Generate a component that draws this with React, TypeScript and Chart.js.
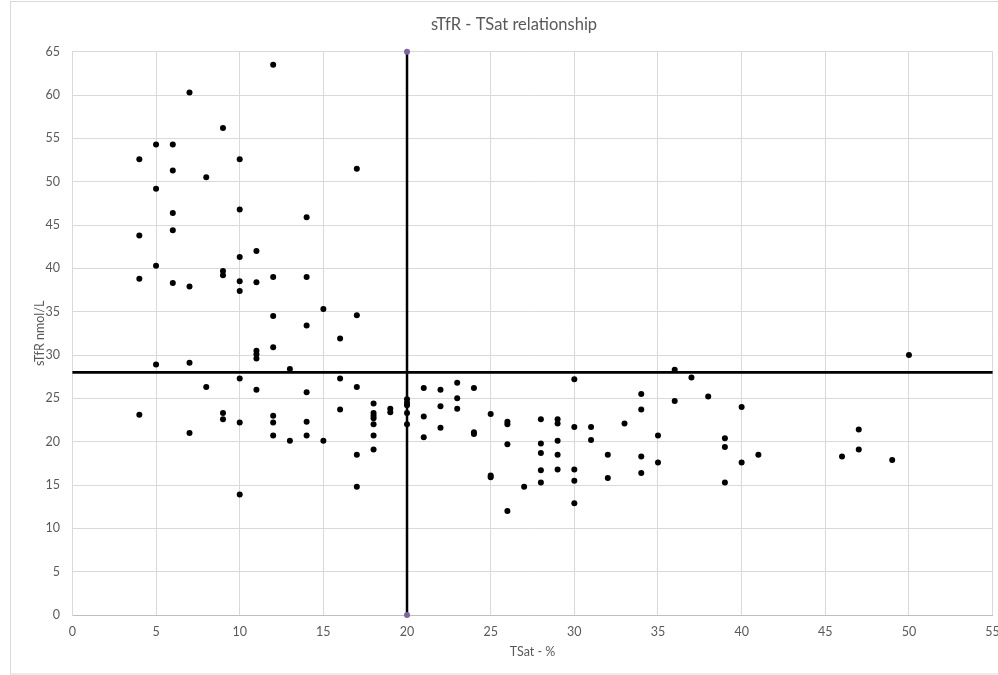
import React, { useEffect, useRef } from "react";
import { Chart, registerables } from "chart.js";

Chart.register(...registerables);

const chartTitle = "sTfR - TSat relationship";
const xAxisTitle = "TSat - %";
const yAxisTitle = "sTfR nmol/L";

// TSat (%) values
const tsat = [
  12, 7, 9, 5, 6, 4, 10, 6, 17, 8, 5, 6, 10, 14, 4, 6, 11, 10, 5, 9, 9, 4, 6, 7, 10, 10, 11, 12, 14, 15, 12, 17, 14, 16,
  11, 11, 11, 12, 5, 7, 13, 10, 16, 8, 11, 14, 17,
  18, 18, 18, 18, 18, 18, 18, 19, 19, 20, 20, 20, 20, 20,
  4, 9, 9, 10, 12, 12, 14, 16, 7, 12, 14, 13, 15, 17, 17, 10,
  21, 21, 21, 22, 22, 22, 23, 23, 23, 24, 24, 24, 25, 25, 25, 26, 26, 26, 26, 27,
  28, 28, 28, 28, 28, 29, 29, 29, 29, 29, 30, 30, 30, 30, 30, 31, 31, 32, 32, 33,
  34, 34, 34, 34, 35, 35, 36, 36, 37,
  38, 40, 39, 39, 39, 40, 41, 46, 47, 47, 49, 50,
];

// sTfR (nmol/L) values
const stfr = [
  63.5, 60.3, 56.2, 54.3, 54.3, 52.6, 52.6, 51.3, 51.5, 50.5, 49.2, 46.4, 46.8, 45.9, 43.8, 44.4, 42.0, 41.3, 40.3, 39.7, 39.2, 38.8, 38.3, 37.9, 38.5, 37.4, 38.4, 39.0, 39.0, 35.3, 34.5, 34.6, 33.4, 31.9,
  30.5, 30.1, 29.6, 30.9, 28.9, 29.1, 28.4, 27.3, 27.3, 26.3, 26.0, 25.7, 26.3,
  24.4, 23.3, 23.0, 22.7, 22.0, 20.7, 19.1, 23.8, 23.4, 24.9, 24.5, 24.2, 23.3, 22.0,
  23.1, 23.3, 22.6, 22.2, 23.0, 22.2, 22.3, 23.7, 21.0, 20.7, 20.7, 20.1, 20.1, 18.5, 14.8, 13.9,
  26.2, 22.9, 20.5, 26.0, 24.1, 21.6, 26.8, 25.0, 23.8, 26.2, 21.1, 20.9, 23.2, 16.1, 15.9, 22.3, 22.0, 19.7, 12.0, 14.8,
  22.6, 19.8, 18.7, 16.7, 15.3, 22.6, 22.1, 20.1, 18.5, 16.8, 27.2, 21.7, 16.8, 15.5, 12.9, 21.7, 20.2, 18.5, 15.8, 22.1,
  25.5, 23.7, 18.3, 16.4, 20.7, 17.6, 28.3, 24.7, 27.4,
  25.2, 24.0, 20.4, 19.4, 15.3, 17.6, 18.5, 18.3, 21.4, 19.1, 17.9, 30.0,
];

// reference lines
const tsatCutoff = 20;
const stfrCutoff = 28;
const xMin = 0;
const xMax = 55;
const yMin = 0;
const yMax = 65;
const tickStep = 5;

const FONT = "Lato, 'Open Sans', sans-serif";
const TEXT = "#595959";
const GRID = "#d9d9d9";

const framePlugin = {
  id: "frame",
  beforeDraw(chart: any) {
    const { ctx } = chart;
    ctx.save();
    ctx.fillStyle = "#ffffff";
    ctx.fillRect(0, 0, chart.width, chart.height);
    ctx.strokeStyle = GRID;
    ctx.lineWidth = 1;
    ctx.strokeRect(10.5, 1.5, chart.width + 10, 672.5);
    ctx.restore();
  },
  afterDraw(chart: any) {
    const { ctx } = chart;
    ctx.save();
    ctx.fillStyle = TEXT;
    ctx.font = `16.5px ${FONT}`;
    ctx.textAlign = "center";
    ctx.textBaseline = "middle";
    ctx.fillText(chartTitle, 514, 25);
    ctx.restore();
  },
};

export default function App() {
  const ref = useRef<HTMLCanvasElement>(null);

  useEffect(() => {
    if (!ref.current) return;
    const points = tsat.map((x, i) => ({ x, y: stfr[i] }));
    const chart = new Chart(ref.current, {
      type: "scatter",
      data: {
        datasets: [
          {
            label: "sTfR vs TSat",
            data: points,
            backgroundColor: "#000000",
            borderColor: "#000000",
            pointRadius: 3,
            borderWidth: 0,
          },
          {
            label: "TSat 20%",
            data: [
              { x: tsatCutoff, y: yMin },
              { x: tsatCutoff, y: yMax },
            ],
            showLine: true,
            borderColor: "#000000",
            borderWidth: 2.5,
            pointRadius: 3,
            pointBackgroundColor: "#8064A2",
            pointBorderWidth: 0,
            clip: false,
          } as any,
          {
            label: "sTfR 28",
            data: [
              { x: xMin, y: stfrCutoff },
              { x: xMax, y: stfrCutoff },
            ],
            showLine: true,
            borderColor: "#000000",
            borderWidth: 2.75,
            pointRadius: 0,
            clip: false,
          } as any,
        ],
      },
      options: {
        animation: false,
        responsive: true,
        maintainAspectRatio: false,
        layout: { padding: { left: 0, right: 5.4, top: 51.7, bottom: 0 } },
        plugins: {
          legend: { display: false },
          tooltip: { enabled: false },
          title: { display: false },
        },
        scales: {
          x: {
            type: "linear",
            min: xMin,
            max: xMax,
            ticks: {
              stepSize: tickStep,
              color: TEXT,
              font: { family: FONT, size: 12.5 },
              padding: 9,
              maxRotation: 0,
            },
            grid: { color: GRID, drawTicks: false },
            border: { color: "#bfbfbf" },
            title: {
              display: true,
              text: xAxisTitle,
              color: TEXT,
              font: { family: FONT, size: 12.5 },
              padding: { top: 0, bottom: 16 },
            },
            afterFit: (s: any) => {
              s.height = 60;
              s.paddingRight = 0;
              s.paddingLeft = 0;
            },
          },
          y: {
            type: "linear",
            min: yMin,
            max: yMax,
            ticks: {
              stepSize: tickStep,
              color: TEXT,
              font: { family: FONT, size: 12.5 },
              padding: 12.5,
            },
            grid: { color: GRID, drawTicks: false },
            border: { color: GRID },
            title: {
              display: true,
              text: yAxisTitle,
              color: TEXT,
              font: { family: FONT, size: 12.5 },
              padding: { top: 32, bottom: 0 },
            },
            afterFit: (s: any) => {
              s.width = 72.4;
              s.paddingTop = 0;
              s.paddingBottom = 0;
            },
          },
        },
      },
      plugins: [framePlugin],
    });
    return () => chart.destroy();
  }, []);

  return (
    <div style={{ position: "fixed", left: 0, top: 0, width: 998, height: 675 }}>
      <canvas ref={ref} />
    </div>
  );
}
